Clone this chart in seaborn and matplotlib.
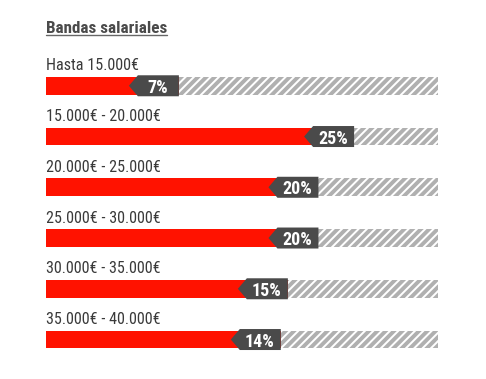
import pandas as pd
import seaborn as sns
import matplotlib.pyplot as plt
import matplotlib.transforms as mtransforms
from matplotlib import font_manager
from matplotlib.patches import Polygon
from matplotlib.lines import Line2D

# Data
bands = ["Hasta 15.000€", "15.000€ - 20.000€", "20.000€ - 25.000€",
         "25.000€ - 30.000€", "30.000€ - 35.000€", "35.000€ - 40.000€"]
pct = [7, 25, 20, 20, 15, 14]
# where each red bar ends on the hatched track (track = 100)
bar_end = [33.9, 78.6, 69.5, 69.5, 61.7, 59.9]
track = [100] * len(bands)

RED = "#ff1200"
BOX = "#4a4a4a"
HATCH = "#b0b0b0"
TEXT = "#3a3a3a"

# pick a narrow font if one is around
installed = {f.name for f in font_manager.fontManager.ttflist}
narrow = [n for n in ["Liberation Sans Narrow", "Roboto Condensed", "Open Sans Condensed",
                      "DejaVu Sans Condensed", "Noto Sans Condensed", "Arial Narrow"]
          if n in installed]

sns.set_theme(style="white")
plt.rcParams['font.family'] = narrow + ['DejaVu Sans']
plt.rcParams['hatch.linewidth'] = 2.8

df = pd.DataFrame({"band": bands, "pct": pct, "end": bar_end, "track": track})

fig = plt.figure(figsize=(4.86, 3.79), dpi=100)
ax = fig.add_axes([46 / 486, 1 - 364.9 / 379, 392 / 486, 304.5 / 379])

# hatched background track
sns.barplot(data=df, x="track", y="band", orient="h", color="white",
            edgecolor=HATCH, hatch="////", linewidth=0, width=0.35, ax=ax)
# red bars
sns.barplot(data=df, x="end", y="band", orient="h", color=RED,
            saturation=1, linewidth=0, width=0.35, ax=ax)

ax.set_xlim(0, 100)
ax.set_ylim(5.5, -0.5)
ax.axis("off")

for i, row in df.iterrows():
    # row label above the bar
    ax.text(0, i - 0.303, row["band"], ha="left", va="baseline",
            fontsize=11.6, color=TEXT)
    # dark flag with arrow pointing left at the end of the bar
    anchor = mtransforms.ScaledTranslation(row["end"], i, ax.transData)
    flag = Polygon([(-0.41, -0.105), (0, -0.105), (0, 0.105), (-0.41, 0.105), (-0.50, 0)],
                   closed=True, facecolor=BOX, edgecolor="none",
                   transform=fig.dpi_scale_trans + anchor, zorder=5)
    ax.add_patch(flag)
    ax.annotate(f"{row['pct']}%", xy=(row["end"], i), xytext=(-21, 0),
                textcoords="offset pixels", ha="center", va="center_baseline",
                fontsize=13, fontweight="bold", color="white", zorder=6)

# underlined title
title = fig.text(46 / 486, 1 - 32.7 / 379, "Bandas salariales", ha="left",
                 va="baseline", fontsize=12.3, fontweight="bold", color=BOX)
fig.canvas.draw()
bb = title.get_window_extent().transformed(fig.transFigure.inverted())
uy = 1 - 34.8 / 379
fig.add_artist(Line2D([bb.x0, bb.x1], [uy, uy], color="#666666", linewidth=1.0,
                      transform=fig.transFigure))

fig.savefig("out.png", dpi=100)
